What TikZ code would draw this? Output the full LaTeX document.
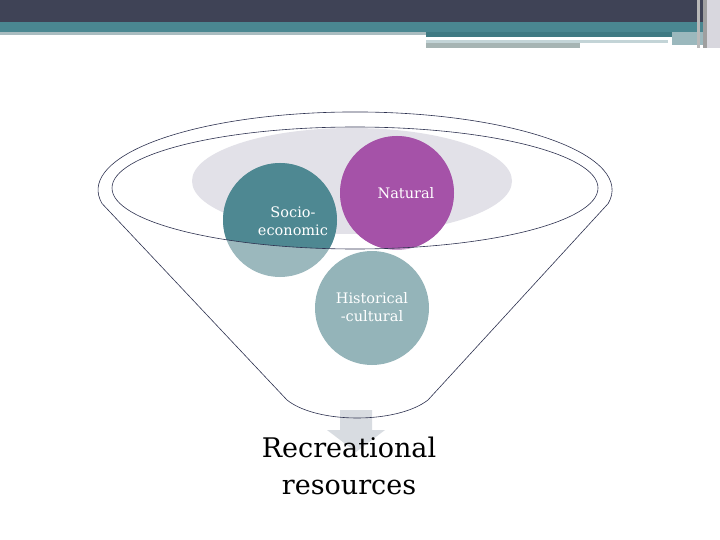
\documentclass[tikz,border=0pt]{standalone}
\usepackage{fontspec}
\setmainfont{DejaVu Serif}
\definecolor{barslate}{HTML}{3F4356}
\definecolor{barteal}{HTML}{4A8791}
\definecolor{bartealdark}{HTML}{3F7A83}
\definecolor{barlight}{HTML}{A9BCC0}
\definecolor{bargray}{HTML}{A6B4B3}
\definecolor{bowlgray}{HTML}{E2E1E8}
\definecolor{funnelnavy}{HTML}{2E3250}
\definecolor{sociodark}{HTML}{4E8892}
\definecolor{sociolight}{HTML}{9BB8BD}
\definecolor{naturaldark}{HTML}{A552A8}
\definecolor{naturallight}{HTML}{C99ACB}
\definecolor{histcol}{HTML}{94B4B9}
\definecolor{arrowgray}{HTML}{D8DCE1}
\tikzset{
    bubble/.style={
           circle,
           minimum size=114pt,
           inner sep=0pt,
           draw=none,
           },
    bubbletext/.style={
           text=white,
           align=center,
           font=\fontsize{14.5}{18}\selectfont,
           },
    funnelline/.style={
           draw=funnelnavy,
           line width=0.6pt,
           },
}

\begin{document}
\begin{tikzpicture}[x=1pt, y=-1pt]
    \useasboundingbox[fill=white] (0,0) rectangle (720,540);

    % title bar at the top
    \fill[barslate] (0,0) rectangle (720,22);
    \fill[barteal] (0,22) rectangle (720,32);
    \fill[barlight] (0,32) rectangle (426,35);
    \fill[bartealdark] (426,32) rectangle (672,37);
    \fill[sociolight] (672,32) rectangle (705,45);
    \fill[sociolight!60] (426,40) rectangle (668,43);
    \fill[bargray] (426,43) rectangle (580,48);
    \fill[gray!55] (697,0) rectangle (700,48);
    \fill[gray!75] (703,0) rectangle (707,48);
    \fill[bowlgray!90!gray] (707,0) rectangle (720,48);

    % gray bowl inside the funnel
    \fill[bowlgray] (352,181) ellipse [x radius=160pt, y radius=53pt];

    % the three bubbles (light colour = part below the rim)
    \node[bubble, fill=sociolight] (socio) at (280,220) {};
    \node[bubble, fill=naturallight] (natural) at (397,193) {};
    \node[bubble, fill=histcol] (histcult) at (372,308) {};

    % darker colour for the part inside the rim
    \begin{scope}
        \clip (355,188) ellipse [x radius=243pt, y radius=61pt];
        \fill[sociodark] (socio.center) circle (57pt);
        \fill[naturaldark] (natural.center) circle (57pt);
    \end{scope}

    % arrow out of the funnel
    \fill[arrowgray] (340,410) -- (372,410) -- (372,430) -- (385,430)
        -- (356,452) -- (327,430) -- (340,430) -- cycle;

    % funnel outline and rim
    \coordinate (rimleft) at (102,203.5);
    \coordinate (rimright) at (608,203.5);
    \coordinate (spoutright) at (428,400);
    \coordinate (spoutleft) at (287,400);
    \draw[funnelline] (rimleft) arc [start angle=190, end angle=-10,
            x radius=257pt, y radius=78pt]
        -- (spoutright) .. controls (397,424) and (317,424) .. (spoutleft)
        -- cycle;
    \draw[funnelline] (355,188) ellipse [x radius=243pt, y radius=61pt];

    % labels
    \node[bubbletext] (sociotext) at (293,221) {Socio-\\economic};
    \node[bubbletext] (naturaltext) at (406,193) {Natural};
    \node[bubbletext] (histtext) at (372,307) {Historical\\-cultural};
    \node[align=center, font=\fontsize{27}{37}\selectfont] (result)
        at (349,466) {Recreational\\resources};
\end{tikzpicture}
\end{document}
